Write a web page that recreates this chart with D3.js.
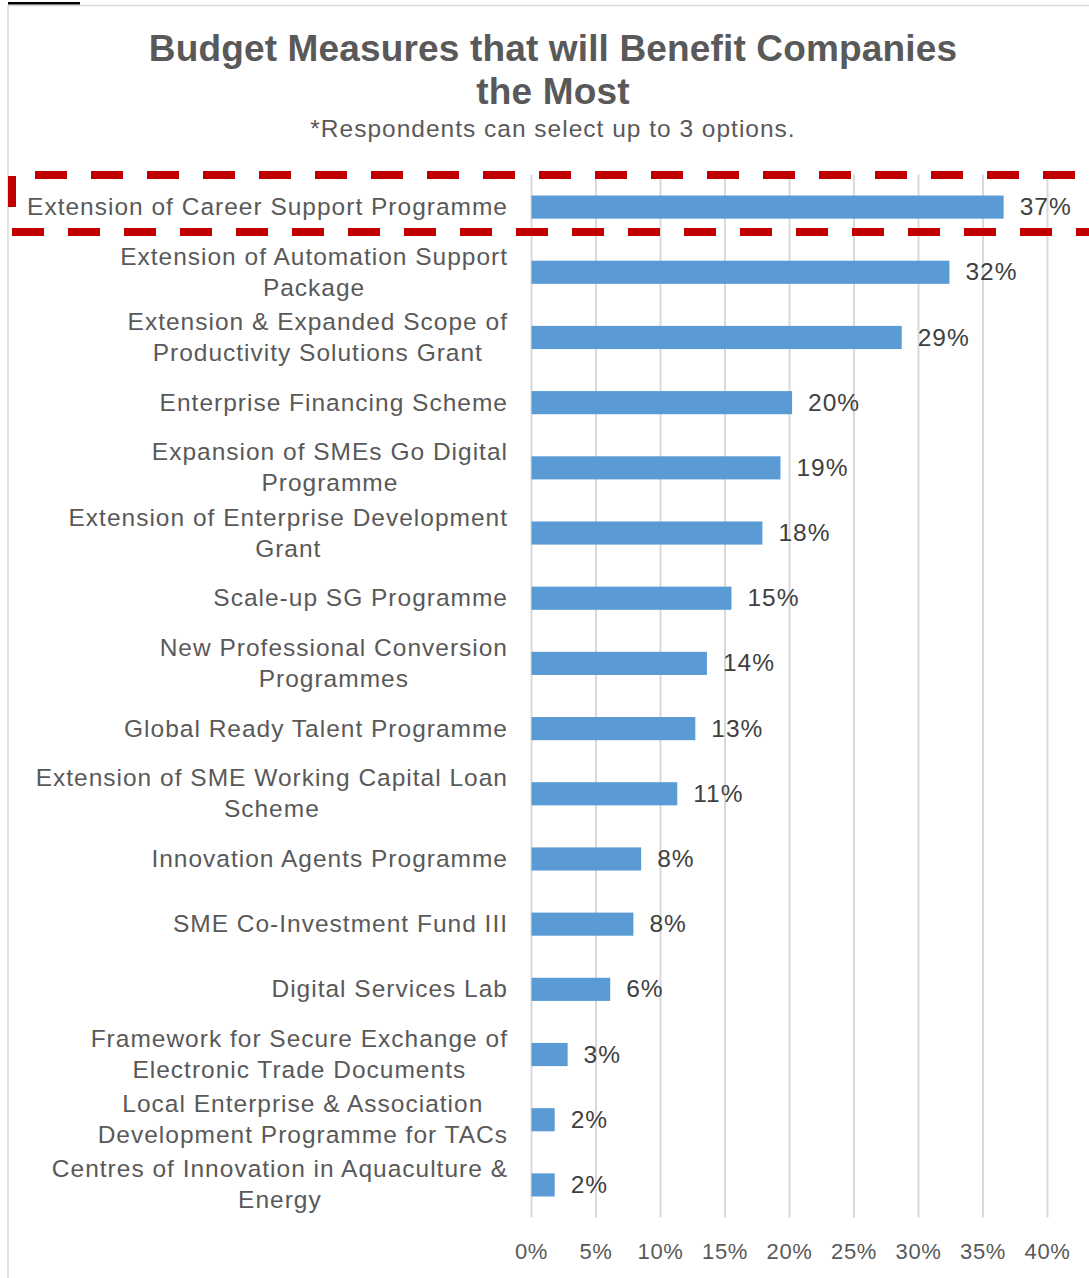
<!DOCTYPE html>
<html>
<head>
  <meta charset="utf-8">
  <script src="https://d3js.org/d3.v7.min.js"></script>
  <style>
    body { margin: 0; background: #fff; }
    svg { display: block; font-family: "Liberation Sans", Arial, sans-serif; }
  </style>
</head>
<body>
  <svg id="viz"></svg>
  <script>
    // category labels, already split into the lines shown on the chart
    let categories = [
      ["Extension of Career Support Programme"],
      ["Extension of Automation Support", "Package"],
      ["Extension & Expanded Scope of", "Productivity Solutions Grant"],
      ["Enterprise Financing Scheme"],
      ["Expansion of SMEs Go Digital", "Programme"],
      ["Extension of Enterprise Development", "Grant"],
      ["Scale-up SG Programme"],
      ["New Professional Conversion", "Programmes"],
      ["Global Ready Talent Programme"],
      ["Extension of SME Working Capital Loan", "Scheme"],
      ["Innovation Agents Programme"],
      ["SME Co-Investment Fund III"],
      ["Digital Services Lab"],
      ["Framework for Secure Exchange of", "Electronic Trade Documents"],
      ["Local Enterprise & Association", "Development Programme for TACs"],
      ["Centres of Innovation in Aquaculture &", "Energy"]
    ];
    // share of respondents (%)
    let values = [36.6, 32.4, 28.7, 20.2, 19.3, 17.9, 15.5, 13.6, 12.7, 11.3, 8.5, 7.9, 6.1, 2.8, 1.8, 1.8];
    let valueLabels = ["37%", "32%", "29%", "20%", "19%", "18%", "15%", "14%", "13%", "11%", "8%", "8%", "6%", "3%", "2%", "2%"];
    let ticks = [0, 5, 10, 15, 20, 25, 30, 35, 40];

    let width = 1089, height = 1278;
    let svg = d3.select("#viz").attr("width", width).attr("height", height);

    // outer frame (only top and left edges are visible)
    svg.append("line").attr("x1", 8).attr("x2", width).attr("y1", 5.5).attr("y2", 5.5)
      .attr("stroke", "#d9d9d9").attr("stroke-width", 1.5);
    svg.append("line").attr("x1", 8).attr("x2", 8).attr("y1", 5.5).attr("y2", height)
      .attr("stroke", "#d9d9d9").attr("stroke-width", 1.5);
    // bit of underline from the page above
    svg.append("rect").attr("x", 8).attr("y", 2).attr("width", 72).attr("height", 2.5).attr("fill", "#000");

    // titles
    let sp = 1.0;
    svg.append("text").attr("x", 553).attr("y", 61).attr("text-anchor", "middle")
      .attr("font-size", 37).attr("font-weight", "bold").attr("fill", "#595959").attr("letter-spacing", 0.15)
      .text("Budget Measures that will Benefit Companies");
    svg.append("text").attr("x", 553).attr("y", 104).attr("text-anchor", "middle")
      .attr("font-size", 37).attr("font-weight", "bold").attr("fill", "#595959").attr("letter-spacing", 0.15)
      .text("the Most");
    svg.append("text").attr("x", 553).attr("y", 137).attr("text-anchor", "middle")
      .attr("font-size", 24.5).attr("fill", "#595959").attr("letter-spacing", sp)
      .text("*Respondents can select up to 3 options.");

    // scales
    let x = d3.scaleLinear().domain([0, 40]).range([531.5, 1047.5]);
    let y = d3.scaleBand().domain(d3.range(values.length)).range([174.5, 1217.5]).paddingInner(0.645).paddingOuter(0.3225);

    // gridlines
    svg.append("g").selectAll("line").data(ticks).enter().append("line")
      .attr("x1", d => x(d)).attr("x2", d => x(d))
      .attr("y1", 174.5).attr("y2", 1217.5)
      .attr("stroke", "#d9d9d9").attr("stroke-width", 2);

    // bars
    svg.append("g").selectAll("rect").data(values).enter().append("rect")
      .attr("x", x(0))
      .attr("y", (d, i) => y(i))
      .attr("width", d => x(d) - x(0))
      .attr("height", y.bandwidth())
      .attr("fill", "#5b9bd5");

    // value labels
    svg.append("g").selectAll("text").data(values).enter().append("text")
      .attr("x", d => x(d) + 16)
      .attr("y", (d, i) => y(i) + y.bandwidth() / 2)
      .attr("dy", "0.33em")
      .attr("font-size", 24.5).attr("fill", "#404040").attr("letter-spacing", sp)
      .text((d, i) => valueLabels[i]);

    // category labels: lines centred on each other, block right-aligned
    let labelRight = 508;
    let lineH = 31;
    categories.forEach((lines, i) => {
      let g = svg.append("g");
      let cy = y(i) + y.bandwidth() / 2;
      let texts = lines.map((t, j) => g.append("text")
        .attr("y", cy + (j - (lines.length - 1) / 2) * lineH)
        .attr("dy", "0.33em")
        .attr("font-size", 24.5).attr("fill", "#595959").attr("letter-spacing", sp)
        .attr("text-anchor", "middle")
        .text(t));
      let w = d3.max(texts, t => t.node().getComputedTextLength());
      texts.forEach(t => t.attr("x", labelRight - w / 2));
    });

    // x axis tick labels
    svg.append("g").selectAll("text").data(ticks).enter().append("text")
      .attr("x", d => x(d)).attr("y", 1251).attr("dy", "0.35em")
      .attr("text-anchor", "middle").attr("font-size", 22).attr("fill", "#595959").attr("letter-spacing", 0.6)
      .text(d => d + "%");

    // red dashed highlight round the first row
    let red = "#c00000";
    svg.append("line").attr("x1", 35).attr("x2", width).attr("y1", 175).attr("y2", 175)
      .attr("stroke", red).attr("stroke-width", 8).attr("stroke-dasharray", "32,24");
    svg.append("line").attr("x1", 12).attr("x2", width).attr("y1", 232).attr("y2", 232)
      .attr("stroke", red).attr("stroke-width", 8).attr("stroke-dasharray", "32,24");
    svg.append("line").attr("x1", 12).attr("x2", 12).attr("y1", 176).attr("y2", 232)
      .attr("stroke", red).attr("stroke-width", 8).attr("stroke-dasharray", "31,40");
  </script>
</body>
</html>
